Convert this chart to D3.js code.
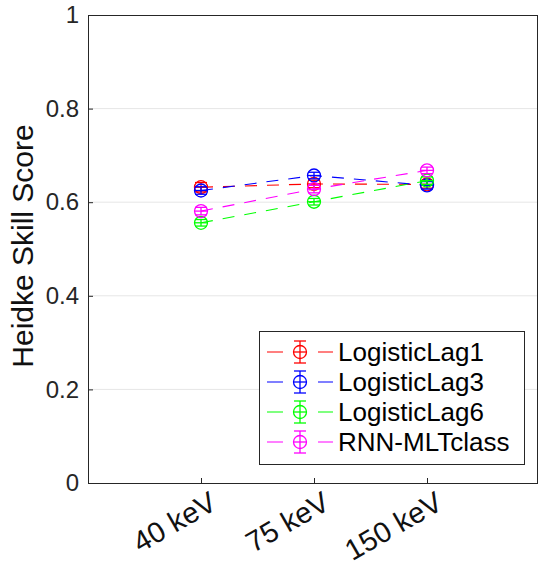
<!DOCTYPE html>
<html>
<head>
<meta charset="utf-8">
<script src="https://cdn.jsdelivr.net/npm/d3@7"></script>
<style>
  html, body { margin: 0; padding: 0; background: #fff; }
  svg { display: block; font-family: "Liberation Sans", Arial, sans-serif; }
</style>
</head>
<body>
<svg id="chart" width="538" height="561"></svg>
<script>
// Energy channels on the x axis
const categories = ["40 keV", "75 keV", "150 keV"];
// Heidke skill score per model and channel
const seriesNames = ["LogisticLag1", "LogisticLag3", "LogisticLag6", "RNN-MLTclass"];
const seriesColors = ["#ff0000", "#0000ff", "#00ff00", "#ff00ff"];
const lag1 = [0.632, 0.639, 0.638];
const lag3 = [0.625, 0.657, 0.636];
const lag6 = [0.556, 0.601, 0.646];
const rnn  = [0.581, 0.628, 0.668];
// Error bar half-widths
const err1 = [0.010, 0.008, 0.008];
const err3 = [0.008, 0.007, 0.008];
const err6 = [0.007, 0.007, 0.008];
const errR = [0.008, 0.008, 0.007];
const yTicks = [0, 0.2, 0.4, 0.6, 0.8, 1];

const series = [
  { name: seriesNames[0], color: seriesColors[0], values: lag1, err: err1 },
  { name: seriesNames[1], color: seriesColors[1], values: lag3, err: err3 },
  { name: seriesNames[2], color: seriesColors[2], values: lag6, err: err6 },
  { name: seriesNames[3], color: seriesColors[3], values: rnn,  err: errR }
];

const svg = d3.select("#chart");
const plotL = 88, plotR = 540, plotT = 15, plotB = 483;

const x = d3.scaleLinear().domain([0, categories.length + 1]).range([plotL, plotR]);
const y = d3.scaleLinear().domain([0, 1]).range([plotB, plotT]);

// Horizontal grid
svg.append("g").selectAll("line")
  .data(yTicks.filter(t => t > 0 && t < 1))
  .join("line")
  .attr("x1", plotL).attr("x2", 537)
  .attr("y1", d => y(d)).attr("y2", d => y(d))
  .attr("stroke", "#e6e6e6").attr("stroke-width", 1);

// Y axis
const yAxis = svg.append("g")
  .attr("transform", `translate(${plotL},0)`)
  .call(d3.axisLeft(y).tickValues(yTicks).tickSize(-5).tickPadding(9)
    .tickFormat(d => d === 0 || d === 1 ? String(d) : d3.format(".1f")(d)));
yAxis.select(".domain").attr("stroke", "#262626");
yAxis.selectAll(".tick line").attr("stroke", "#262626");
yAxis.selectAll(".tick text")
  .attr("font-size", 24).attr("fill", "#262626")
  .attr("font-family", "'Liberation Sans', Arial, sans-serif");

// X axis
const xAxis = svg.append("g")
  .attr("transform", `translate(0,${plotB})`)
  .call(d3.axisBottom(x).tickValues([1, 2, 3]).tickSize(-5)
    .tickFormat((d) => categories[d - 1]));
xAxis.select(".domain").remove();
xAxis.selectAll(".tick line").attr("stroke", "#262626");
xAxis.selectAll(".tick text")
  .attr("font-size", 29).attr("fill", "#111")
  .attr("font-family", "'Liberation Sans', Arial, sans-serif")
  .attr("text-anchor", "end")
  .attr("dy", null).attr("y", 0)
  .attr("transform", "translate(17,25) rotate(-30)");

// Box outline
svg.append("line").attr("x1", plotL).attr("x2", 538).attr("y1", plotB + 0.5).attr("y2", plotB + 0.5)
  .attr("stroke", "#262626");
svg.append("line").attr("x1", plotL).attr("x2", 538).attr("y1", plotT + 0.5).attr("y2", plotT + 0.5)
  .attr("stroke", "#262626");
svg.append("line").attr("x1", 537.5).attr("x2", 537.5).attr("y1", plotT).attr("y2", plotB)
  .attr("stroke", "#262626");

// Series
const line = d3.line().x((d, i) => x(i + 1)).y(d => y(d));
const cap = 6, r = 6.5;

function drawMarker(g, cx, cy, color, halfErr) {
  g.append("line").attr("x1", cx).attr("x2", cx).attr("y1", cy - halfErr).attr("y2", cy + halfErr)
    .attr("stroke", color).attr("stroke-width", 1.3);
  g.append("line").attr("x1", cx - cap).attr("x2", cx + cap).attr("y1", cy - halfErr).attr("y2", cy - halfErr)
    .attr("stroke", color).attr("stroke-width", 1.3);
  g.append("line").attr("x1", cx - cap).attr("x2", cx + cap).attr("y1", cy + halfErr).attr("y2", cy + halfErr)
    .attr("stroke", color).attr("stroke-width", 1.3);
  g.append("circle").attr("cx", cx).attr("cy", cy).attr("r", r)
    .attr("fill", "none").attr("stroke", color).attr("stroke-width", 1.3);
  g.append("line").attr("x1", cx - r).attr("x2", cx + r).attr("y1", cy).attr("y2", cy)
    .attr("stroke", color).attr("stroke-width", 1.3);
}

series.forEach(s => {
  const g = svg.append("g");
  g.append("path").datum(s.values).attr("d", line)
    .attr("fill", "none").attr("stroke", s.color).attr("stroke-width", 1.1)
    .attr("stroke-dasharray", "12,10");
  s.values.forEach((v, i) => {
    const cy = y(v);
    const half = y(v - s.err[i]) - cy;
    drawMarker(g, x(i + 1), cy, s.color, half);
  });
});

// Legend
const lg = svg.append("g");
lg.append("rect").attr("x", 259.5).attr("y", 331.5).attr("width", 265).attr("height", 133)
  .attr("fill", "#fff").attr("stroke", "#262626").attr("stroke-width", 1);
series.forEach((s, i) => {
  const cy = 352 + i * 30;
  lg.append("line").attr("x1", 267).attr("x2", 333).attr("y1", cy).attr("y2", cy)
    .attr("stroke", s.color).attr("stroke-width", 1.1).attr("stroke-dasharray", "16,35,15,100");
  drawMarker(lg, 300, cy, s.color, 11);
  lg.append("text").attr("x", 338).attr("y", cy).attr("dy", "0.36em")
    .attr("font-size", 26).attr("fill", "#000").text(s.name);
});

// Y label
svg.append("text")
  .attr("transform", `translate(33,246) rotate(-90)`)
  .attr("text-anchor", "middle").attr("font-size", 30).attr("fill", "#111")
  .text("Heidke Skill Score");
</script>
</body>
</html>
